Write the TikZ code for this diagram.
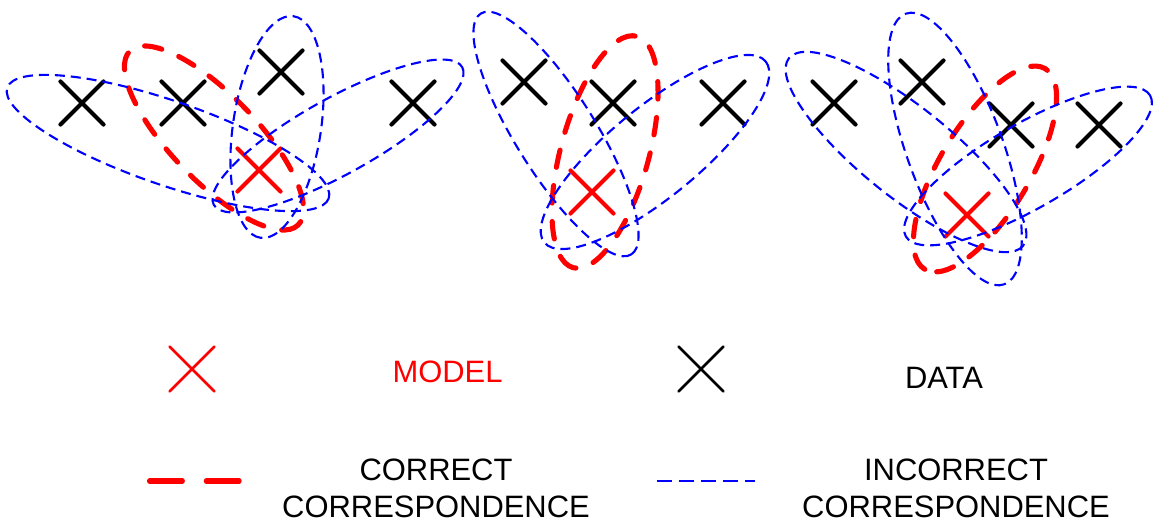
\documentclass[tikz,border=0pt]{standalone}
\usepackage{fontspec}
\setmainfont{Liberation Sans}
\usetikzlibrary{shapes.misc}

\begin{document}
\begin{tikzpicture}[x=0.2mm,y=-0.2mm,
    datax/.style={cross out,draw=black,line width=2.4pt,line cap=round,
      minimum size=8.6mm,inner sep=0pt,outer sep=0pt},
    modelx/.style={datax,draw=red},
    keyx/.style={cross out,line width=1.5pt,line cap=round,
      minimum size=9mm,inner sep=0pt,outer sep=0pt},
    rightpair/.style={draw=red,line width=2.9pt,line cap=round,
      dash pattern=on 10pt off 10.5pt},
    wrongpair/.style={draw=blue,line width=1.2pt,dash pattern=on 5.7pt off 3.4pt},
    keytext/.style={font=\fontsize{17.6}{21}\selectfont,align=center,inner sep=0pt}]
  \useasboundingbox (0,0) rectangle (1153,522);

  % first group
  \node[datax] (d11) at (82,103) {};
  \node[datax] (d12) at (183,103) {};
  \node[datax] (d13) at (281,72) {};
  \node[datax] (d14) at (413,103) {};
  \node[modelx] (m1) at (259,170) {};
  \draw[rightpair,rotate around={-46:(214,138)}] (214,138) ellipse (121 and 43);
  \draw[wrongpair,rotate around={-19:(168,143)}] (168,143) ellipse (170 and 42);
  \draw[wrongpair,rotate around={-98.5:(277,127)}] (277,127) ellipse (112 and 44);
  \draw[wrongpair,rotate around={29:(338,136)}] (338,136) ellipse (142 and 38);

  % second group
  \node[datax] (d21) at (524,82) {};
  \node[datax] (d22) at (613,103) {};
  \node[datax] (d23) at (723,103) {};
  \node[modelx] (m2) at (592,192) {};
  \draw[rightpair,rotate around={-105.4:(605,152)}] (605,152) ellipse (120 and 44);
  \draw[wrongpair,rotate around={-58:(556,134)}] (556,134) ellipse (142 and 40);
  \draw[wrongpair,rotate around={39.3:(655,152)}] (655,152) ellipse (143 and 45);

  % third group
  \node[datax] (d31) at (834,103) {};
  \node[datax] (d32) at (922,82) {};
  \node[datax] (d33) at (1011,125) {};
  \node[datax] (d34) at (1099,125) {};
  \node[modelx] (m3) at (967,215) {};
  \draw[rightpair,rotate around={-121:(985,169)}] (985,169) ellipse (117 and 45);
  \draw[wrongpair,rotate around={-38.7:(906,152)}] (906,152) ellipse (150 and 45);
  \draw[wrongpair,rotate around={-70:(955,149)}] (955,149) ellipse (144 and 48);
  \draw[wrongpair,rotate around={30:(1028,166)}] (1028,166) ellipse (141 and 42);

  % legend
  \node[keyx,draw=red] (kmodel) at (192,369) {};
  \node[keytext,text=red] (tmodel) at (447.5,372) {MODEL};
  \node[keyx,draw=black] (kdata) at (701,369) {};
  \node[keytext] (tdata) at (944,377.5) {DATA};
  \coordinate (kr0) at (149.5,481);
  \coordinate (kr1) at (240.5,481);
  \draw[red,line width=2.9pt,line cap=round,dash pattern=on 18.7pt off 13.6pt] (kr0) -- (kr1);
  \node[keytext] (tright) at (436,488.5) {CORRECT\\CORRESPONDENCE};
  \coordinate (kw0) at (657,481);
  \coordinate (kw1) at (755,481);
  \draw[blue,line width=1.6pt,dash pattern=on 8.5pt off 4pt] (kw0) -- (kw1);
  \node[keytext] (twrong) at (956,488.5) {INCORRECT\\CORRESPONDENCE};
\end{tikzpicture}
\end{document}
